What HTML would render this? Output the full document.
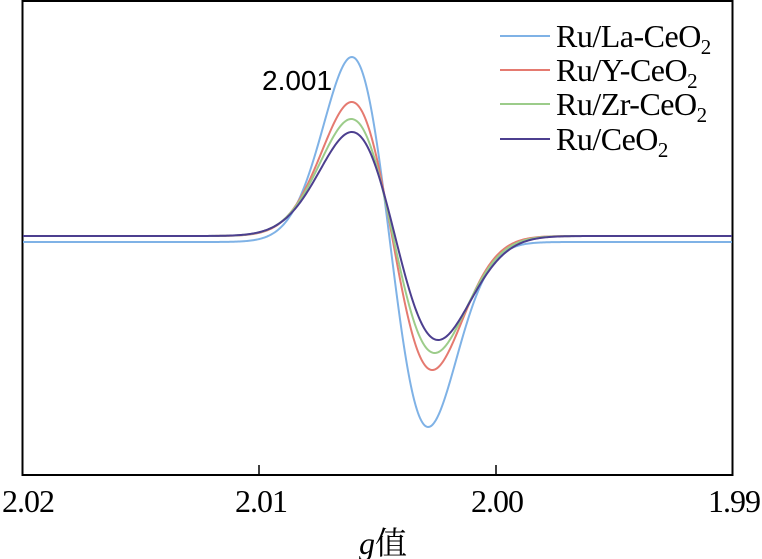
<!DOCTYPE html>
<html><head><meta charset="utf-8"><style>
body{margin:0;background:#fff;width:762px;height:559px;overflow:hidden}
svg{display:block}
text{font-family:"Liberation Serif","Noto Serif CJK SC",serif;fill:#000}
</style></head><body>
<svg id="s" width="762" height="559" xmlns="http://www.w3.org/2000/svg">
<rect x="22.5" y="1" width="710" height="474" fill="none" stroke="#000" stroke-width="2"/>
<line x1="259" y1="475" x2="259" y2="465" stroke="#000" stroke-width="1.5"/>
<line x1="496" y1="475" x2="496" y2="465" stroke="#000" stroke-width="1.5"/>
<g font-size="32" text-anchor="middle" letter-spacing="-1">
<text x="28" y="512">2.02</text>
<text x="261" y="512">2.01</text>
<text x="497" y="512">2.00</text>
<text x="734" y="512">1.99</text>
</g>
<text x="383" y="554" font-size="32" text-anchor="middle"><tspan font-style="italic">g</tspan>值</text>
<text x="262" y="90" font-size="28" style="font-family:'Liberation Sans',sans-serif">2.001</text>
<g id="curves"></g>
<g stroke-width="2">
<line x1="500" y1="36" x2="550" y2="36" stroke="#7fb2e6"/>
<line x1="500" y1="70" x2="550" y2="70" stroke="#e57a70"/>
<line x1="500" y1="104" x2="550" y2="104" stroke="#9ccc8a"/>
<line x1="500" y1="139" x2="550" y2="139" stroke="#4c3f8f"/>
</g>
<g font-size="32" letter-spacing="-0.5">
<text x="556" y="47">Ru/La-CeO<tspan font-size="21" dy="7">2</tspan></text>
<text x="556" y="81">Ru/Y-CeO<tspan font-size="21" dy="7">2</tspan></text>
<text x="556" y="115">Ru/Zr-CeO<tspan font-size="21" dy="7">2</tspan></text>
<text x="556" y="150">Ru/CeO<tspan font-size="21" dy="7">2</tspan></text>
</g>
</svg>
<script>
var series=[
 {c:"#7fb2e6",cx:390,s:54,a:185,b:242},
 {c:"#e57a70",cx:392,s:57,a:134,b:236},
 {c:"#9ccc8a",cx:393,s:59,a:117,b:236},
 {c:"#4c3f8f",cx:395,s:61,a:104,b:236}];
var g=document.getElementById("curves"),k=Math.sqrt(2)*Math.exp(0.5);
series.forEach(function(p){
 var d="";
 for(var x=23;x<=732;x+=1){
  var u=(x-p.cx)/p.s;
  var y=p.b+p.a*k*u*Math.exp(-u*u);
  d+=(x==23?"M":"L")+x+","+y.toFixed(2);
 }
 var e=document.createElementNS("http://www.w3.org/2000/svg","path");
 e.setAttribute("d",d);e.setAttribute("fill","none");
 e.setAttribute("stroke",p.c);e.setAttribute("stroke-width","2");
 g.appendChild(e);
});
</script>
</body></html>
